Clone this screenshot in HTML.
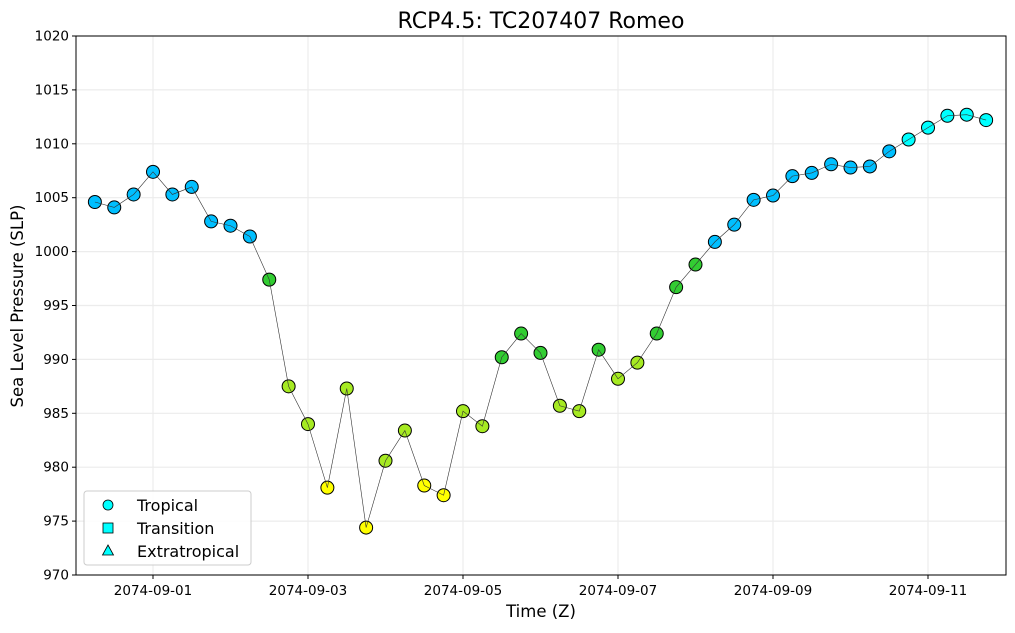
<!DOCTYPE html>
<html><head><meta charset="utf-8"><style>
body{margin:0;background:#fff;font-family:"DejaVu Sans","Liberation Sans",sans-serif;}
</style></head><body>
<svg id="chart" width="1015" height="629" font-family="DejaVu Sans, Liberation Sans, sans-serif">
<rect width="1015" height="629" fill="#fff"/>
<g id="grid"></g><g id="axes"></g><g id="marks"></g>
<text x="541" y="28" text-anchor="middle" font-size="22">RCP4.5: TC207407 Romeo</text>
<text x="541" y="617" text-anchor="middle" font-size="16.5">Time (Z)</text>
<text transform="translate(23,306) rotate(-90)" text-anchor="middle" font-size="16.5">Sea Level Pressure (SLP)</text>
<g>
<rect x="84" y="491" width="167" height="74" rx="3" fill="#fff" fill-opacity="0.85" stroke="#ccc"/>
<g><circle cx="108" cy="505" r="5" fill="#00ffff" stroke="#000" stroke-width="0.8"/><text x="137" y="511" font-size="16">Tropical</text></g>
<g><rect x="103" y="523" width="10" height="10" fill="#00ffff" stroke="#000" stroke-width="0.8"/><text x="137" y="534" font-size="16">Transition</text></g>
<g><polygon points="108,545 113.5,555 102.5,555" fill="#00ffff" stroke="#000" stroke-width="0.8"/><text x="137" y="557" font-size="16">Extratropical</text></g>
</g>
</svg>
<script>
const slp=[1004.6,1004.1,1005.3,1007.4,1005.3,1006.0,1002.8,1002.4,1001.4,997.4,987.5,984.0,978.1,987.3,974.4,980.6,983.4,978.3,977.4,985.2,983.8,990.2,992.4,990.6,985.7,985.2,990.9,988.2,989.7,992.4,996.7,998.8,1000.9,1002.5,1004.8,1005.2,1007.0,1007.3,1008.1,1007.8,1007.9,1009.3,1010.4,1011.5,1012.6,1012.7,1012.2];
const intensity=["b","b","b","b","b","b","b","b","b","g","y","y","Y","y","Y","y","y","Y","Y","y","y","g","g","g","y","y","g","y","y","g","g","g","b","b","b","b","b","b","b","b","b","b","c","c","c","c","c"];
const startHours=-18;
const stepHours=6;
const yTicks=[970,975,980,985,990,995,1000,1005,1010,1015,1020];
const xTickDays=[0,2,4,6,8,10];
const xTickLabels=["2074-09-01","2074-09-03","2074-09-05","2074-09-07","2074-09-09","2074-09-11"];
const colors={b:"#00bfff",c:"#00ffff",g:"#32cd32",y:"#a6ea22",Y:"#ffff00"};
const L=76,R=1006,T=36,B=575;
const X=d=>153+d*77.5;
const Y=v=>B-(v-970)/50*(B-T);
const ns="http://www.w3.org/2000/svg";
function mk(t,a,p){const e=document.createElementNS(ns,t);for(const k in a)e.setAttribute(k,a[k]);p.appendChild(e);return e;}
const grid=document.getElementById('grid'),axes=document.getElementById('axes'),marks=document.getElementById('marks');
yTicks.forEach(v=>{
 const g=mk('line',{x1:L,x2:R,y1:Y(v),y2:Y(v),stroke:'#ececec','stroke-width':1.2},grid);
 
 
 mk('line',{x1:L-4,x2:L,y1:Y(v),y2:Y(v),stroke:'#000'},axes);
 const t=mk('text',{x:L-7,y:Y(v)+4.5,'text-anchor':'end','font-size':13.5},axes);t.textContent=v;
 
 
});
xTickDays.forEach((d,i)=>{
 const g=mk('line',{x1:X(d),x2:X(d),y1:T,y2:B,stroke:'#ececec','stroke-width':1.2},grid);
 
 
 mk('line',{x1:X(d),x2:X(d),y1:B,y2:B+4,stroke:'#000'},axes);
 const t=mk('text',{x:X(d),y:B+20,'text-anchor':'middle','font-size':13.5},axes);t.textContent=xTickLabels[i];
 
 
});
const fr=mk('rect',{x:L,y:T,width:R-L,height:B-T,fill:'none',stroke:'#000','stroke-width':1},axes);


const px=i=>X((startHours+i*stepHours)/24);
slp.forEach((v,i)=>{
 const c=mk('circle',{cx:px(i),cy:Y(v),r:6.5,fill:colors[intensity[i]],stroke:'#000','stroke-width':1},marks);
 
 
});
const pl=mk('polyline',{points:slp.map((v,i)=>px(i)+','+Y(v)).join(' '),fill:'none',stroke:'#333','stroke-width':0.6},marks);


</script>
</body></html>
